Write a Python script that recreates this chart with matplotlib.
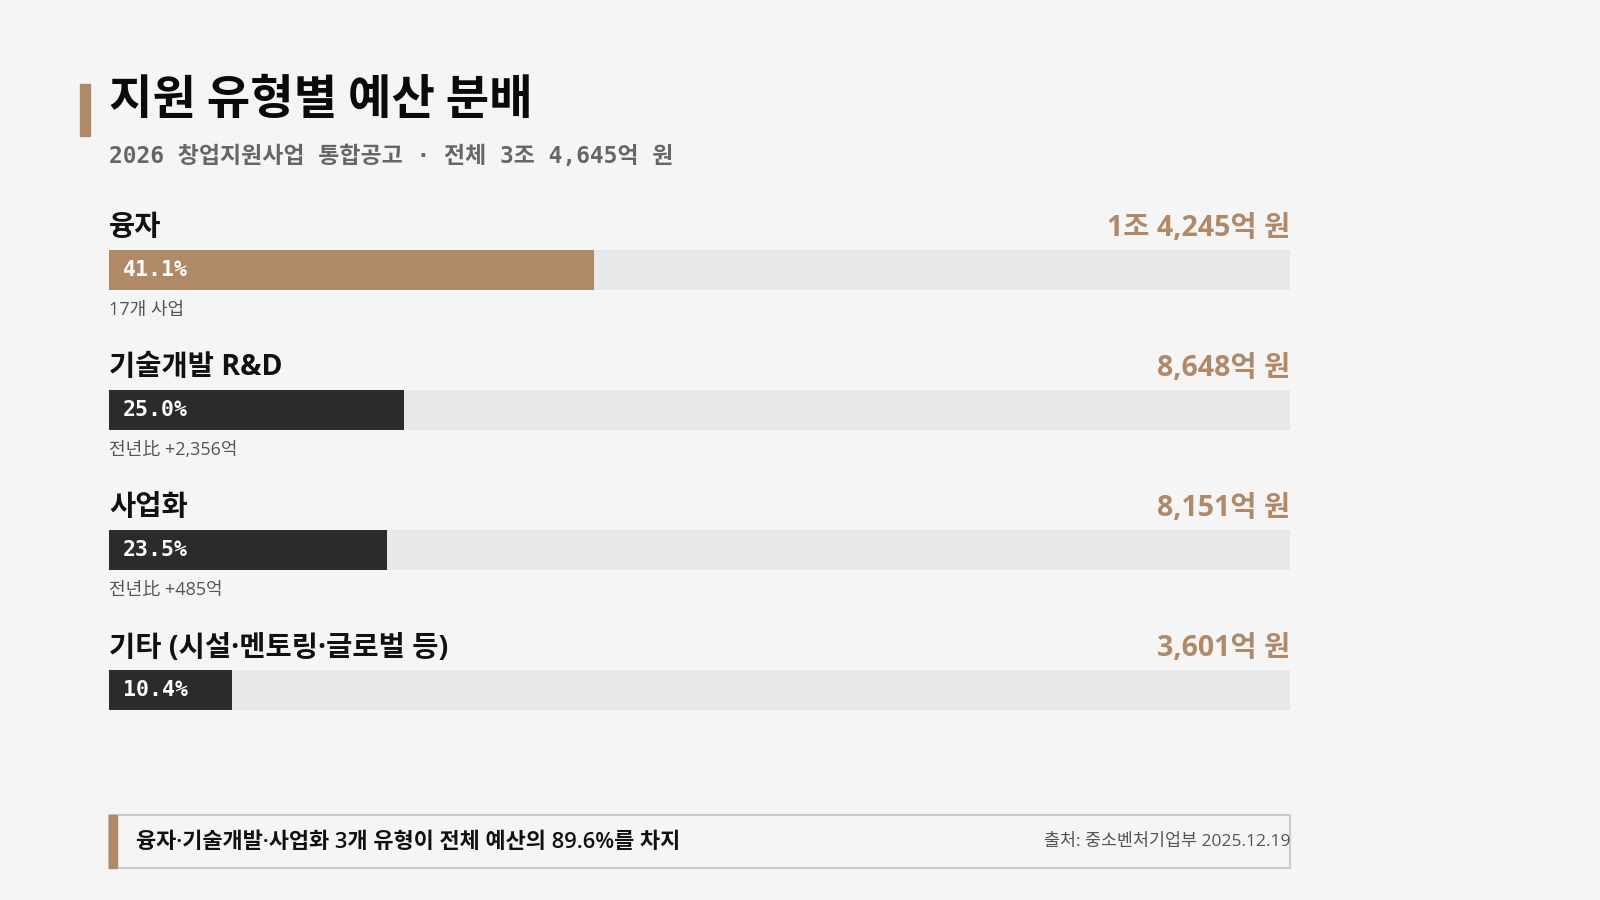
import matplotlib
matplotlib.use("Agg")
import matplotlib.pyplot as plt
from matplotlib.patches import Rectangle

plt.rcParams['font.family'] = ['Noto Sans CJK KR', 'DejaVu Sans']

categories = ["융자", "기술개발 R&D", "사업화", "기타 (시설·멘토링·글로벌 등)"]
shares = [41.1, 25.0, 23.5, 10.4]
amounts = ["1조 4,245억 원", "8,648억 원", "8,151억 원", "3,601억 원"]
notes = ["17개 사업", "전년比 +2,356억", "전년比 +485억", ""]

BG = "#f5f5f5"
TRACK = "#e8e8e8"
BROWN = "#b08968"
DARK = "#2b2b2b"
MONO = ['DejaVu Sans Mono', 'Noto Sans CJK KR']
SANS = ['Open Sans', 'Noto Sans CJK KR']

fig = plt.figure(figsize=(16, 9), dpi=100, facecolor=BG)

# title block
fig.patches.append(Rectangle((80 / 1600, 1 - 136 / 900), 10 / 1600, 52 / 900,
                             transform=fig.transFigure, color=BROWN))
fig.text(109 / 1600, 1 - 100 / 900, "지원 유형별 예산 분배", fontsize=34, fontweight='black',
         color="#0a0a0a", va='center', ha='left')
fig.text(109 / 1600, 1 - 156 / 900, "2026 창업지원사업 통합공고 · 전체 3조 4,645억 원",
         fontsize=16.5, fontweight='bold', color="#666666", va='center', ha='left', family=MONO)

# bars
ax = fig.add_axes([109 / 1600, 1 - 760 / 900, (1290 - 109) / 1600, 560 / 900])
ax.set_facecolor(BG)
ypos = list(range(len(categories)))
ax.barh(ypos, [100] * len(ypos), height=40 / 140, color=TRACK, left=0)
colors = [BROWN] + [DARK] * (len(ypos) - 1)
ax.barh(ypos, shares, height=40 / 140, color=colors, left=0)
ax.set_xlim(0, 100)
ax.set_ylim(3.5, -0.5)
ax.axis('off')

for i, (cat, s, amt, note) in enumerate(zip(categories, shares, amounts, notes)):
    ax.text(0, i - 42 / 140, cat, fontsize=20.5, fontweight='bold', color="#111111",
            va='center', ha='left', family=SANS)
    ax.text(100, i - 42 / 140, amt, fontsize=20.5, fontweight='bold', color=BROWN,
            va='center', ha='right', family=SANS)
    ax.text(1.2, i, f"{s:.1f}%", fontsize=15.5, fontweight='bold', color="white",
            va='center', ha='left', family=MONO)
    if note:
        ax.text(0, i + 40 / 140, note, fontsize=13, color="#555555", va='center', ha='left',
                family=SANS)

# bottom summary box
fig.patches.append(Rectangle((109 / 1600, 1 - 868 / 900), (1290 - 109) / 1600, 53 / 900,
                             transform=fig.transFigure, facecolor=BG, edgecolor="#cccccc",
                             linewidth=1.5))
fig.patches.append(Rectangle((109 / 1600, 1 - 868 / 900), 8 / 1600, 53 / 900,
                             transform=fig.transFigure, color=BROWN))
fig.text(136 / 1600, 1 - 842 / 900, "융자·기술개발·사업화 3개 유형이 전체 예산의 89.6%를 차지",
         fontsize=15.8, fontweight='semibold', color="#111111", va='center', ha='left', family=SANS)
fig.text(1290 / 1600, 1 - 842 / 900, "출처: 중소벤처기업부 2025.12.19",
         fontsize=12.5, color="#555555", va='center', ha='right', family=SANS)

fig.savefig("out.png", dpi=100, facecolor=BG)
